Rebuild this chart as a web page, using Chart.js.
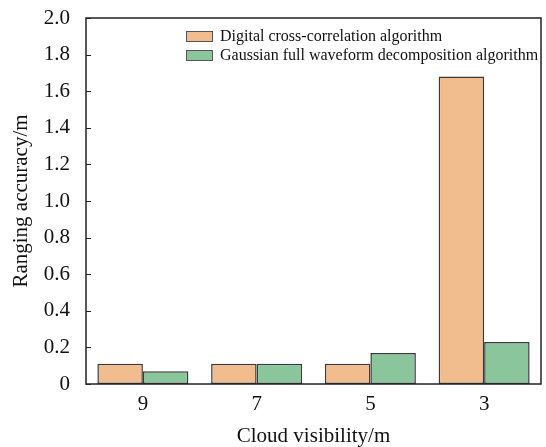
<!DOCTYPE html>
<html>
<head>
<meta charset="utf-8">
<script src="https://cdn.jsdelivr.net/npm/chart.js@4"></script>
<style>
  html, body { margin: 0; padding: 0; background: #fff; }
  #wrap { width: 546px; height: 447px; }
</style>
</head>
<body>
<div id="wrap"><canvas id="c" width="546" height="447"></canvas></div>
<script>
// chart values
const categories = ['9', '7', '5', '3'];
const seriesNames = ['Digital cross-correlation algorithm', 'Gaussian full waveform decomposition algorithm'];
const digitalValues = [0.11, 0.11, 0.11, 1.68];
const gaussianValues = [0.07, 0.11, 0.17, 0.23];
const yTicks = [0, 0.2, 0.4, 0.6, 0.8, 1.0, 1.2, 1.4, 1.6, 1.8, 2.0];

const serif = '"Liberation Serif", "Times New Roman", serif';
const colors = ['#f2bd8e', '#8bc59b'];

// frame box, inward y ticks and legend inside the plot
const framePlugin = {
    id: 'frame',
    afterDraw(chart) {
        const ctx = chart.ctx;
        const a = chart.chartArea;
        const y = chart.scales.y;
        ctx.save();
        ctx.strokeStyle = '#222';
        ctx.lineWidth = 1.5;
        ctx.strokeRect(a.left, a.top, a.right - a.left, a.bottom - a.top);
        ctx.lineWidth = 1;
        yTicks.forEach(v => {
            const py = Math.round(y.getPixelForValue(v)) + 0.5;
            ctx.beginPath();
            ctx.moveTo(a.left, py);
            ctx.lineTo(a.left + 5, py);
            ctx.stroke();
        });

        // legend
        ctx.font = '16px ' + serif;
        ctx.textBaseline = 'middle';
        const rows = [36, 55];
        chart.data.datasets.forEach((ds, i) => {
            const ry = rows[i];
            ctx.fillStyle = ds.backgroundColor;
            ctx.fillRect(186, ry - 5, 27, 11);
            ctx.strokeStyle = '#555';
            ctx.lineWidth = 1;
            ctx.strokeRect(186.5, ry - 4.5, 26, 10);
            ctx.fillStyle = '#111';
            ctx.fillText(ds.label, 220, ry + 1);
        });
        ctx.restore();
    }
};

const ctx = document.getElementById('c').getContext('2d');
new Chart(ctx, {
    type: 'bar',
    data: {
        labels: categories,
        datasets: [{
            label: seriesNames[0],
            data: digitalValues,
            backgroundColor: colors[0],
            borderColor: '#3a3a3a',
            borderWidth: 1.5,
            borderSkipped: false
        }, {
            label: seriesNames[1],
            data: gaussianValues,
            backgroundColor: colors[1],
            borderColor: '#3a3a3a',
            borderWidth: 1.5,
            borderSkipped: false
        }]
    },
    options: {
        responsive: false,
        animation: false,
        layout: { padding: { top: 18, right: 5, left: 0, bottom: 0 } },
        plugins: {
            legend: { display: false },
            tooltip: { enabled: false }
        },
        datasets: {
            bar: { categoryPercentage: 0.8, barPercentage: 1.0 }
        },
        scales: {
            x: {
                grid: { display: false, drawTicks: false },
                border: { display: false },
                ticks: {
                    color: '#111',
                    font: { family: serif, size: 21 },
                    padding: 8
                },
                title: {
                    display: true,
                    text: 'Cloud visibility/m',
                    color: '#111',
                    font: { family: serif, size: 21, lineHeight: 1.0 },
                    padding: { top: 2, bottom: 0 }
                },
                afterFit(scale) {
                    scale.height = 63;
                    scale.paddingLeft = 0;
                    scale.paddingRight = 0;
                }
            },
            y: {
                min: 0,
                max: 2.0,
                afterBuildTicks(scale) {
                    scale.ticks = yTicks.map(v => ({ value: v }));
                },
                grid: { display: false, drawTicks: false },
                border: { display: false },
                ticks: {
                    color: '#111',
                    font: { family: serif, size: 21 },
                    padding: 16,
                    callback: v => v === 0 ? '0' : v.toFixed(1)
                },
                title: {
                    display: true,
                    text: 'Ranging accuracy/m',
                    color: '#111',
                    font: { family: serif, size: 21, lineHeight: 1.0 },
                    padding: { top: 11, bottom: 0 }
                },
                afterFit(scale) {
                    scale.width = 86;
                    scale.paddingTop = 0;
                    scale.paddingBottom = 0;
                }
            }
        }
    },
    plugins: [framePlugin]
});
</script>
</body>
</html>
